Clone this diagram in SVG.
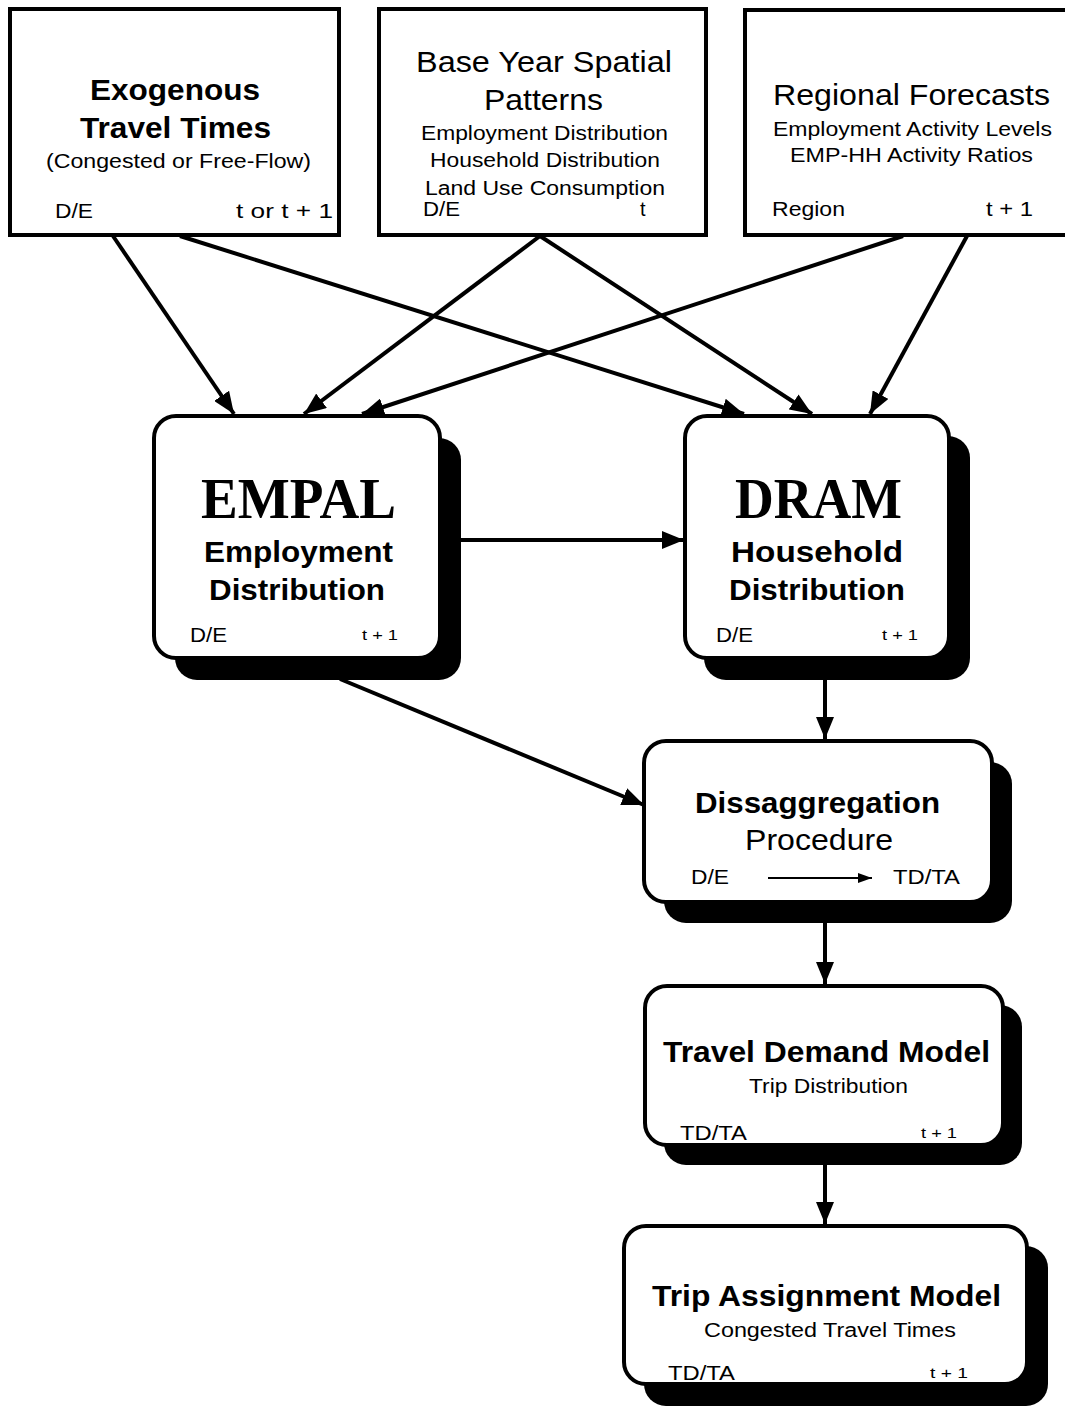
<svg xmlns="http://www.w3.org/2000/svg" width="1065" height="1408" viewBox="0 0 1065 1408">
<defs>
<marker id="ah" markerWidth="22" markerHeight="18" refX="22" refY="9" orient="auto" markerUnits="userSpaceOnUse">
<path d="M0,0 L22,9 L0,18 Z" fill="#000"/>
</marker>
<marker id="ahs" markerWidth="14" markerHeight="10" refX="14" refY="5" orient="auto" markerUnits="userSpaceOnUse">
<path d="M0,0 L14,5 L0,10 Z" fill="#000"/>
</marker>
<style>
.box{fill:#fff;stroke:#000;stroke-width:4}
.sh{fill:#000}
.c{stroke:#000;stroke-width:4;fill:none;marker-end:url(#ah)}
text{font-family:"Liberation Sans",Arial,sans-serif;fill:#000}
.t{font-size:30px;font-weight:bold}
.tn{font-size:30px}
.s{font-size:20px}
.l{font-size:20px}
.rs{font-size:15px}
.big{font-family:"Liberation Serif","Times New Roman",serif;font-size:58px;font-weight:bold}
</style>
</defs>
<rect width="1065" height="1408" fill="#fff"/>
<g id="connectors">
<line class="c" x1="113" y1="236" x2="234" y2="414"/>
<line class="c" x1="180" y1="236" x2="744" y2="414"/>
<line class="c" x1="540" y1="236" x2="304" y2="414"/>
<line class="c" x1="540" y1="236" x2="812" y2="414"/>
<line class="c" x1="903" y1="236" x2="362" y2="414"/>
<line class="c" x1="967" y1="236" x2="870" y2="414"/>
<line class="c" x1="460" y1="540" x2="684" y2="540"/>
<line class="c" x1="340" y1="679" x2="644" y2="805"/>
<line class="c" x1="825" y1="679" x2="825" y2="739"/>
<line class="c" x1="825" y1="921" x2="825" y2="984"/>
<line class="c" x1="825" y1="1163" x2="825" y2="1224"/>
</g>
<g id="exogenous">
<rect class="box" x="10" y="9" width="329" height="226"/>
<text class="t" x="90" y="100" textLength="170" lengthAdjust="spacingAndGlyphs">Exogenous</text>
<text class="t" x="80" y="138" textLength="191" lengthAdjust="spacingAndGlyphs">Travel Times</text>
<text class="s" x="46" y="168" textLength="265" lengthAdjust="spacingAndGlyphs">(Congested or Free-Flow)</text>
<text class="l" x="55" y="218" textLength="38" lengthAdjust="spacingAndGlyphs">D/E</text>
<text class="l" x="236" y="218" textLength="97" lengthAdjust="spacingAndGlyphs">t or t + 1</text>
</g>
<g id="baseyear">
<rect class="box" x="379" y="9" width="327" height="226"/>
<text class="tn" x="416" y="72" textLength="256" lengthAdjust="spacingAndGlyphs">Base Year Spatial</text>
<text class="tn" x="484" y="110" textLength="119" lengthAdjust="spacingAndGlyphs">Patterns</text>
<text class="s" x="421" y="140" textLength="247" lengthAdjust="spacingAndGlyphs">Employment Distribution</text>
<text class="s" x="430" y="167" textLength="230" lengthAdjust="spacingAndGlyphs">Household Distribution</text>
<text class="s" x="425" y="195" textLength="240" lengthAdjust="spacingAndGlyphs">Land Use Consumption</text>
<text class="l" x="423" y="216" textLength="37" lengthAdjust="spacingAndGlyphs">D/E</text>
<text class="l" x="640" y="216">t</text>
</g>
<g id="regional">
<rect class="box" x="745" y="10" width="330" height="225"/>
<text class="tn" x="773" y="105" textLength="277" lengthAdjust="spacingAndGlyphs">Regional Forecasts</text>
<text class="s" x="773" y="136" textLength="279" lengthAdjust="spacingAndGlyphs">Employment Activity Levels</text>
<text class="s" x="790" y="162" textLength="243" lengthAdjust="spacingAndGlyphs">EMP-HH Activity Ratios</text>
<text class="l" x="772" y="216" textLength="73" lengthAdjust="spacingAndGlyphs">Region</text>
<text class="l" x="986" y="216" textLength="47" lengthAdjust="spacingAndGlyphs">t + 1</text>
</g>
<g id="empal">
<rect class="sh" x="175" y="438" width="286" height="242" rx="22"/>
<rect class="box" x="154" y="416" width="286" height="242" rx="22"/>
<text class="big" x="201" y="518" textLength="195" lengthAdjust="spacingAndGlyphs">EMPAL</text>
<text class="t" x="204" y="562" textLength="189" lengthAdjust="spacingAndGlyphs">Employment</text>
<text class="t" x="209" y="600" textLength="176" lengthAdjust="spacingAndGlyphs">Distribution</text>
<text class="l" x="190" y="642" textLength="37" lengthAdjust="spacingAndGlyphs">D/E</text>
<text class="rs" x="362" y="640" textLength="36" lengthAdjust="spacingAndGlyphs">t + 1</text>
</g>
<g id="dram">
<rect class="sh" x="704" y="436" width="266" height="244" rx="22"/>
<rect class="box" x="685" y="416" width="264" height="242" rx="22"/>
<text class="big" x="735" y="518" textLength="167" lengthAdjust="spacingAndGlyphs">DRAM</text>
<text class="t" x="731" y="562" textLength="172" lengthAdjust="spacingAndGlyphs">Household</text>
<text class="t" x="729" y="600" textLength="176" lengthAdjust="spacingAndGlyphs">Distribution</text>
<text class="l" x="716" y="642" textLength="37" lengthAdjust="spacingAndGlyphs">D/E</text>
<text class="rs" x="882" y="640" textLength="36" lengthAdjust="spacingAndGlyphs">t + 1</text>
</g>
<g id="disagg">
<rect class="sh" x="664" y="762" width="348" height="161" rx="22"/>
<rect class="box" x="644" y="741" width="348" height="161" rx="22"/>
<text class="t" x="695" y="813" textLength="245" lengthAdjust="spacingAndGlyphs">Dissaggregation</text>
<text class="tn" x="745" y="850" textLength="148" lengthAdjust="spacingAndGlyphs">Procedure</text>
<text class="l" x="691" y="884" textLength="38" lengthAdjust="spacingAndGlyphs">D/E</text>
<line x1="768" y1="878" x2="872" y2="878" stroke="#000" stroke-width="2" marker-end="url(#ahs)"/>
<text class="l" x="893" y="884" textLength="67" lengthAdjust="spacingAndGlyphs">TD/TA</text>
</g>
<g id="traveldemand">
<rect class="sh" x="664" y="1005" width="358" height="160" rx="22"/>
<rect class="box" x="645" y="986" width="358" height="159" rx="22"/>
<text class="t" x="663" y="1062" textLength="327" lengthAdjust="spacingAndGlyphs">Travel Demand Model</text>
<text class="s" x="749" y="1093" textLength="159" lengthAdjust="spacingAndGlyphs">Trip Distribution</text>
<text class="l" x="680" y="1140" textLength="67" lengthAdjust="spacingAndGlyphs">TD/TA</text>
<text class="rs" x="921" y="1138" textLength="36" lengthAdjust="spacingAndGlyphs">t + 1</text>
</g>
<g id="tripassign">
<rect class="sh" x="644" y="1246" width="404" height="160" rx="22"/>
<rect class="box" x="624" y="1226" width="403" height="158" rx="22"/>
<text class="t" x="652" y="1306" textLength="349" lengthAdjust="spacingAndGlyphs">Trip Assignment Model</text>
<text class="s" x="704" y="1337" textLength="252" lengthAdjust="spacingAndGlyphs">Congested Travel Times</text>
<text class="l" x="668" y="1380" textLength="67" lengthAdjust="spacingAndGlyphs">TD/TA</text>
<text class="rs" x="930" y="1378" textLength="38" lengthAdjust="spacingAndGlyphs">t + 1</text>
</g>
</svg>
